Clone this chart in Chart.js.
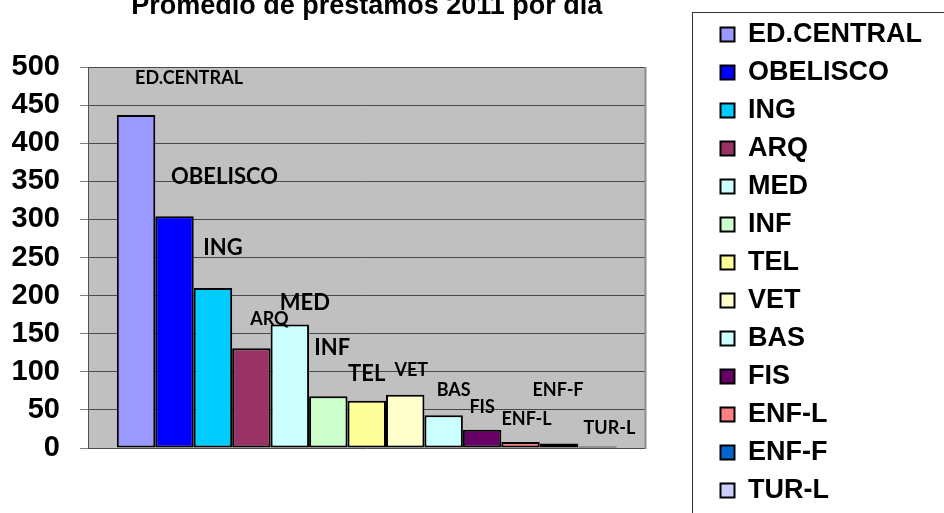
<!DOCTYPE html>
<html>
<head>
<meta charset="utf-8">
<script src="https://cdn.jsdelivr.net/npm/chart.js@4/dist/chart.umd.min.js"></script>
<style>
  html, body { margin: 0; padding: 0; background: #ffffff; }
  #wrap { width: 944px; height: 513px; }
</style>
</head>
<body>
<div id="wrap"><canvas id="c" width="944" height="513"></canvas></div>
<script>
// ---- data ----
const titleText = 'Promedio de prestamos 2011 por dia';
const categories = [''];
const seriesNames = ['ED.CENTRAL', 'OBELISCO', 'ING', 'ARQ', 'MED', 'INF', 'TEL', 'VET', 'BAS', 'FIS', 'ENF-L', 'ENF-F', 'TUR-L'];
const seriesValues = [437, 304, 210, 131, 162, 68, 62, 70, 43, 24, 8, 6, 2];
const seriesColors = ['#9999FF', '#0000FF', '#00CCFF', '#993366', '#CCFFFF', '#CCFFCC', '#FFFF99', '#FFFFCC', '#CCFFFF', '#660066', '#FF8080', '#0066CC', '#CCCCFF'];
const yTickMin = 0;
const yTickMax = 500;
const yTickStep = 50;

// ---- presentation ----
const ARIAL = '"Liberation Sans", Arial, sans-serif';
const LABEL_FONT = 'Lato, "Open Sans", sans-serif';

// where each series-name label sits: dx = px offset from bar centre, v = height in axis units
const labelPlacement = [
  { dx: 53, v: 485, big: false },
  { dx: 50, v: 356, big: true },
  { dx: 10, v: 263, big: true },
  { dx: 18, v: 169, big: false },
  { dx: 15, v: 190, big: true },
  { dx: 4,  v: 131, big: true },
  { dx: 0,  v: 97,  big: true },
  { dx: 6,  v: 102, big: false },
  { dx: 10, v: 76,  big: false },
  { dx: 0,  v: 53,  big: false },
  { dx: 6,  v: 38,  big: false },
  { dx: -1, v: 76,  big: false },
  { dx: 12, v: 26,  big: false }
];

const plotFrame = {
  id: 'plotFrame',
  beforeDraw(chart) {
    const { ctx, chartArea: a } = chart;
    ctx.save();
    ctx.fillStyle = '#C0C0C0';
    ctx.fillRect(a.left, a.top, a.right - a.left, a.bottom - a.top);
    ctx.restore();
  },
  afterDraw(chart) {
    const { ctx, chartArea: a } = chart;
    ctx.save();
    ctx.strokeStyle = '#8c8c8c';
    ctx.lineWidth = 2;
    ctx.beginPath();
    ctx.moveTo(a.right, a.top);
    ctx.lineTo(a.right, a.bottom + 1);
    ctx.stroke();
    // legend frame
    const lg = chart.legend;
    ctx.strokeStyle = '#333333';
    ctx.lineWidth = 1;
    ctx.strokeRect(Math.round(lg.left - 18) + 0.5, 12.5, 400, 600);
    ctx.restore();
  }
};

const seriesLabels = {
  id: 'seriesLabels',
  afterDatasetsDraw(chart, args, opts) {
    const { ctx } = chart;
    const yScale = chart.scales.y;
    chart.data.datasets.forEach((ds, i) => {
      const bar = chart.getDatasetMeta(i).data[0];
      const p = opts.placement[i];
      if (!bar || !p) return;
      ctx.save();
      ctx.font = 'bold ' + (p.big ? opts.bigSize : opts.size) + 'px ' + opts.family;
      ctx.fillStyle = '#000';
      ctx.textAlign = 'center';
      ctx.textBaseline = 'middle';
      ctx.fillText(ds.label, bar.x + p.dx, yScale.getPixelForValue(p.v));
      ctx.restore();
    });
  }
};

Chart.defaults.color = '#000';

new Chart(document.getElementById('c'), {
  type: 'bar',
  data: {
    labels: categories,
    datasets: seriesNames.map((name, i) => ({
      label: name,
      data: [seriesValues[i]],
      backgroundColor: seriesColors[i],
      borderColor: '#000000',
      borderWidth: 2,
      borderSkipped: false,
      categoryPercentage: 0.8966,
      barPercentage: 1
    }))
  },
  options: {
    responsive: false,
    animation: false,
    devicePixelRatio: 1,
    layout: { padding: { top: 10, left: 0, right: 12, bottom: -5 } },
    scales: {
      x: {
        display: true,
        grid: { display: false },
        ticks: { display: false },
        border: { display: false },
        afterFit(s) { s.height = 70; }
      },
      y: {
        min: yTickMin,
        max: yTickMax,
        ticks: { stepSize: yTickStep, padding: 20, color: '#000', font: { family: ARIAL, size: 29, weight: 'bold' } },
        grid: { color: '#4a4a4a', tickColor: '#808080', tickLength: 8, lineWidth: 1 },
        border: { color: '#505050', width: 1 },
        afterFit(s) { s.width = 88; }
      },
      yR: {
        type: 'linear',
        position: 'right',
        display: true,
        grid: { display: false },
        ticks: { display: false },
        border: { display: false },
        afterFit(s) { s.width = 64; }
      }
    },
    plugins: {
      title: {
        display: true,
        text: titleText,
        fullSize: false,
        color: '#000',
        font: { family: ARIAL, size: 27, weight: 'bold', lineHeight: 1.2 },
        padding: { top: -19.6, bottom: 44.2 }
      },
      legend: {
        position: 'right',
        align: 'start',
        fullSize: true,
        maxWidth: 300,
        labels: {
          boxWidth: 14,
          boxHeight: 14,
          padding: 11,
          color: '#000',
          font: { family: ARIAL, size: 27, weight: 'bold' }
        }
      },
      tooltip: { enabled: false },
      seriesLabels: { placement: labelPlacement, family: LABEL_FONT, size: 18, bigSize: 22 }
    }
  },
  plugins: [plotFrame, seriesLabels]
});
</script>
</body>
</html>
